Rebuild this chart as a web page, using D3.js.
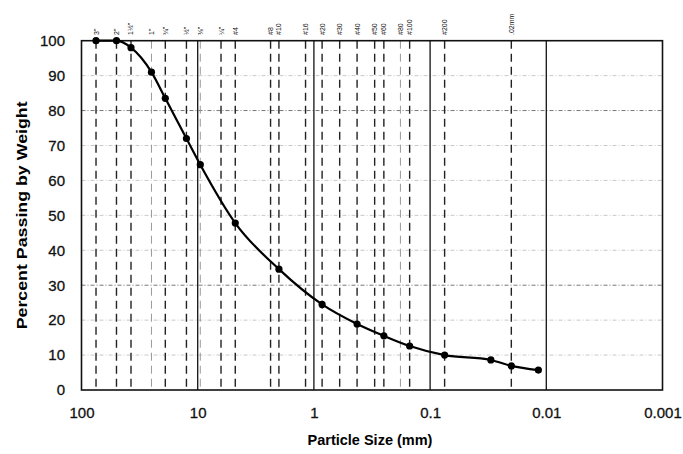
<!DOCTYPE html>
<html>
<head>
<meta charset="utf-8">
<script src="https://cdn.jsdelivr.net/npm/d3@7"></script>
<style>
  body { margin: 0; background: #fff; }
  text { font-family: "Liberation Sans", Arial, sans-serif; }
</style>
</head>
<body>
<div id="chart"></div>
<script>
const w = 683,
      h = 454;
const margin = {top: 40.7, right: 20.5, bottom: 64, left: 81.5};

// gradation data
const sizes   = [75, 50, 37.5, 25, 19, 12.5, 9.5, 4.75, 2.0, 0.85, 0.425, 0.25, 0.15, 0.075, 0.03, 0.02, 0.0117];
const passing = [100, 100, 98, 91, 83.5, 72, 64.5, 47.8, 34.6, 24.5, 18.9, 15.5, 12.6, 10.0, 8.6, 6.9, 5.7];

// sieve lines along the top
const sieveSizes  = [75, 50, 37.5, 25, 19, 12.5, 9.5, 6.3, 4.75, 2.36, 2.0, 1.18, 0.85, 0.6, 0.425, 0.3, 0.25, 0.18, 0.15, 0.075, 0.02];
const sieveLabels = ['3"', '2"', '1½"', '1"', '¾"', '½"', '⅜"', '¼"', '#4', '#8', '#10', '#16', '#20', '#30', '#40', '#50', '#60', '#80', '#100', '#200', '.02mm'];
const faintSieves = [25, 9.5, 0.18];

const xTicks = [100, 10, 1, 0.1, 0.01, 0.001];
const xTickLabels = ['100', '10', '1', '0.1', '0.01', '0.001'];
const yTicks = [0, 10, 20, 30, 40, 50, 60, 70, 80, 90, 100];
const darkGrid = [80, 30];

const svg = d3.select('#chart').append('svg')
              .attr('width', w)
              .attr('height', h);

const x = d3.scaleLog()
            .domain([100, 0.001])
            .range([margin.left, w - margin.right]);
const y = d3.scaleLinear()
            .domain([0, 100])
            .range([h - margin.bottom, margin.top]);

// horizontal grid
svg.append('g').selectAll('line')
   .data(yTicks.filter(t => t > 0 && t < 100))
   .enter().append('line')
   .attr('x1', x.range()[0]).attr('x2', x.range()[1])
   .attr('y1', d => y(d)).attr('y2', d => y(d))
   .attr('stroke', d => darkGrid.includes(d) ? '#777' : '#c8c8c8')
   .attr('stroke-width', 1)
   .attr('stroke-dasharray', '4,2,1,2');

// sieve dashed lines
svg.append('g').selectAll('line')
   .data(sieveSizes)
   .enter().append('line')
   .attr('x1', d => x(d)).attr('x2', d => x(d))
   .attr('y1', y(100)).attr('y2', y(0))
   .attr('stroke', d => faintSieves.includes(d) ? '#999' : '#222')
   .attr('stroke-width', d => faintSieves.includes(d) ? 1 : 1.4)
   .attr('stroke-dasharray', '8,5');

// decade lines
svg.append('g').selectAll('line')
   .data([10, 1, 0.1, 0.01])
   .enter().append('line')
   .attr('x1', d => x(d)).attr('x2', d => x(d))
   .attr('y1', y(100)).attr('y2', y(0))
   .attr('stroke', '#111')
   .attr('stroke-width', 1.3);

// frame
svg.append('rect')
   .attr('x', x.range()[0]).attr('y', y(100))
   .attr('width', x.range()[1] - x.range()[0])
   .attr('height', y(0) - y(100))
   .attr('fill', 'none')
   .attr('stroke', '#111')
   .attr('stroke-width', 1.6);

// sieve labels
svg.append('g').selectAll('text')
   .data(sieveSizes)
   .enter().append('text')
   .attr('transform', d => `translate(${x(d) + 2.5},35) rotate(-90)`)
   .attr('font-size', 7)
   .attr('fill', '#111')
   .text((d, i) => sieveLabels[i]);

// axes
const xAxis = d3.axisBottom(x).tickValues(xTicks).tickSize(0).tickFormat((d, i) => xTickLabels[i]);
svg.append('g')
   .attr('transform', `translate(0,${y(0) + 14})`)
   .call(xAxis)
   .call(g => g.select('.domain').remove())
   .selectAll('text').attr('font-size', 15).attr('fill', '#111')
   .attr('stroke', '#111').attr('stroke-width', 0.3)
   .attr('font-family', '"Liberation Sans", Arial, sans-serif');

const yAxis = d3.axisLeft(y).tickValues(yTicks).tickSize(0);
svg.append('g')
   .attr('transform', `translate(${x.range()[0] - 13.5},0)`)
   .call(yAxis)
   .call(g => g.select('.domain').remove())
   .selectAll('text').attr('font-size', 15).attr('fill', '#111')
   .attr('stroke', '#111').attr('stroke-width', 0.3)
   .attr('font-family', '"Liberation Sans", Arial, sans-serif');

// curve
const pts = sizes.map((s, i) => [s, passing[i]]);
const line = d3.line()
               .x(d => x(d[0]))
               .y(d => y(d[1]))
               .curve(d3.curveMonotoneX);
svg.append('path')
   .datum(pts)
   .attr('d', line)
   .attr('fill', 'none')
   .attr('stroke', '#000')
   .attr('stroke-width', 2.2);
svg.append('g').selectAll('circle')
   .data(pts)
   .enter().append('circle')
   .attr('cx', d => x(d[0]))
   .attr('cy', d => y(d[1]))
   .attr('r', 3.6)
   .attr('fill', '#000');

// titles
svg.append('text')
   .attr('x', (x.range()[0] + x.range()[1]) / 2 - 2)
   .attr('y', 445)
   .attr('text-anchor', 'middle')
   .attr('font-size', 14.5).attr('font-weight', 'bold')
   .text('Particle Size (mm)');
svg.append('text')
   .attr('transform', `translate(27,${(y(0) + y(100)) / 2}) rotate(-90)`)
   .attr('text-anchor', 'middle')
   .attr('font-size', 14.5).attr('font-weight', 'bold')
   .attr('textLength', 228).attr('lengthAdjust', 'spacingAndGlyphs')
   .text('Percent Passing by Weight');
</script>
</body>
</html>
